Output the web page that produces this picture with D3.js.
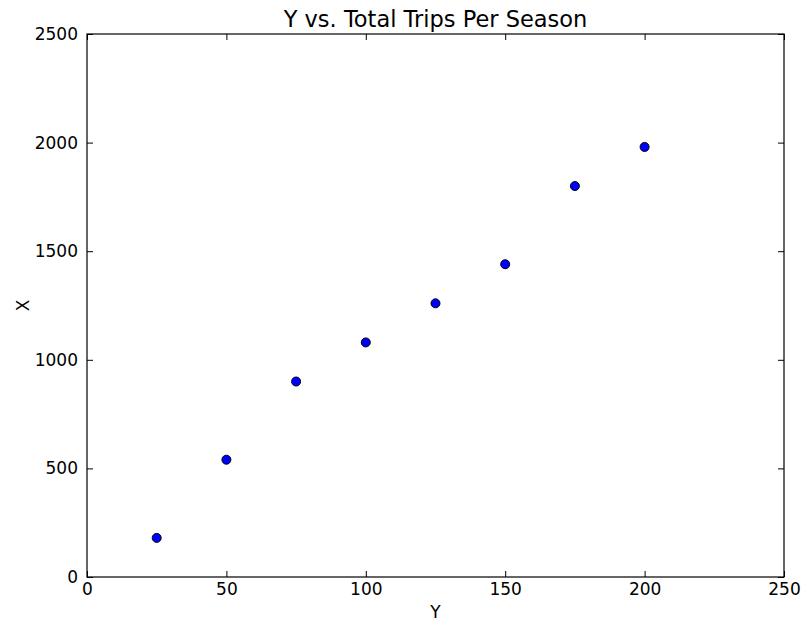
<!DOCTYPE html>
<html><head><meta charset="utf-8">
<script src="https://cdn.jsdelivr.net/npm/d3@7"></script>
<style>body{margin:0;background:#fff}svg{display:block}text{font-family:"DejaVu Sans",sans-serif}</style>
</head><body>
<svg id="c" width="804" height="621"></svg>
<script>
const xValues = [25, 50, 75, 100, 125, 150, 175, 200];
const yValues = [180, 540, 900, 1080, 1260, 1440, 1800, 1980];
const xTicks = [0, 50, 100, 150, 200, 250];
const yTicks = [0, 500, 1000, 1500, 2000, 2500];
const title = "Y vs. Total Trips Per Season";
const xLabel = "Y";
const yLabel = "X";

const svg = d3.select("#c");
const m = {l: 87, r: 784, t: 34, b: 577};
const x = d3.scaleLinear().domain([0, 250]).range([m.l, m.r]);
const y = d3.scaleLinear().domain([0, 2500]).range([m.b, m.t]);
const fs = 17;
const fmt = d3.format("d");

const ax = [
  {g: d3.axisBottom(x).tickValues(xTicks).tickFormat(fmt).tickSizeInner(-6).tickSizeOuter(0).tickPadding(6), t: `translate(0,${m.b})`, lab: true},
  {g: d3.axisTop(x).tickValues(xTicks).tickSizeInner(-6).tickSizeOuter(0), t: `translate(0,${m.t})`, lab: false},
  {g: d3.axisLeft(y).tickValues(yTicks).tickFormat(fmt).tickSizeInner(-6).tickSizeOuter(0).tickPadding(9), t: `translate(${m.l},0)`, lab: true},
  {g: d3.axisRight(y).tickValues(yTicks).tickSizeInner(-6).tickSizeOuter(0), t: `translate(${m.r},0)`, lab: false}
];
ax.forEach(a => {
  const g = svg.append("g").attr("transform", a.t).call(a.g);
  g.select(".domain").remove();
  g.selectAll(".tick line").attr("stroke", "#000").attr("stroke-width", 1);
  g.selectAll("text").attr("font-size", fs).attr("fill", "#000").attr("font-family", "DejaVu Sans");
  if (!a.lab) g.selectAll("text").remove();
});

svg.append("rect").attr("x", m.l).attr("y", m.t).attr("width", m.r - m.l).attr("height", m.b - m.t)
  .attr("fill", "none").attr("stroke", "#000").attr("stroke-width", 1.2);

svg.append("g").selectAll("circle").data(xValues).join("circle")
  .attr("cx", (d) => x(d)).attr("cy", (d, i) => y(yValues[i])).attr("r", 4.5)
  .attr("fill", "#0000ff").attr("stroke", "#000").attr("stroke-width", 1);

svg.append("text").attr("x", (m.l + m.r) / 2).attr("y", 27).attr("text-anchor", "middle")
  .attr("font-size", 22.5).text(title);
svg.append("text").attr("x", (m.l + m.r) / 2).attr("y", 618).attr("text-anchor", "middle")
  .attr("font-size", fs).text(xLabel);
svg.append("text").attr("transform", `translate(29,${(m.t + m.b) / 2}) rotate(-90)`).attr("text-anchor", "middle")
  .attr("font-size", fs).text(yLabel);
</script>
</body></html>
